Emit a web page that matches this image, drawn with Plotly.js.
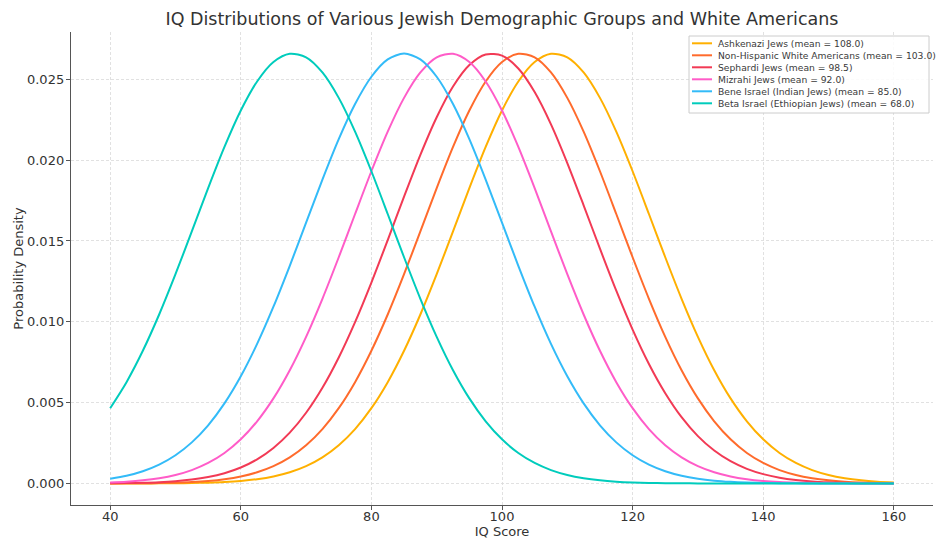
<!DOCTYPE html>
<html>
<head>
<meta charset="utf-8">
<script src="https://cdn.plot.ly/plotly-3.0.1.min.js"></script>
<style>html,body{margin:0;padding:0;background:#fff;}#chart{width:945px;height:551px;}</style>
</head>
<body>
<div id="chart"></div>
<script>
const iqScores = [40,42.5,45,47.5,50,52.5,55,57.5,60,62.5,65,67.5,70,72.5,75,77.5,80,82.5,85,87.5,90,92.5,95,97.5,100,102.5,105,107.5,110,112.5,115,117.5,120,122.5,125,127.5,130,132.5,135,137.5,140,142.5,145,147.5,150,152.5,155,157.5,160];

const ashkenazi = [0.0000009,0.0000019,0.0000039,0.0000078,0.0000151,0.0000283,0.0000519,0.0000920,0.000159,0.000267,0.000437,0.000695,0.001074,0.001616,0.002365,0.003365,0.004658,0.006270,0.008209,0.010453,0.012946,0.015594,0.018269,0.020817,0.023070,0.024867,0.026069,0.026581,0.026361,0.025426,0.023852,0.021763,0.019313,0.016669,0.013993,0.011425,0.009072,0.007007,0.005263,0.003845,0.002732,0.001888,0.001270,0.000830,0.000528,0.000326,0.000196,0.000115,0.0000654];
const whiteAmericans = [0.0000039,0.0000078,0.0000151,0.0000283,0.0000519,0.0000920,0.000159,0.000267,0.000437,0.000695,0.001074,0.001616,0.002365,0.003365,0.004658,0.006270,0.008209,0.010453,0.012946,0.015594,0.018269,0.020817,0.023070,0.024867,0.026069,0.026581,0.026361,0.025426,0.023852,0.021763,0.019313,0.016669,0.013993,0.011425,0.009072,0.007007,0.005263,0.003845,0.002732,0.001888,0.001270,0.000830,0.000528,0.000326,0.000196,0.000115,0.0000654,0.0000362,0.0000195];
const sephardi = [0.0000132,0.0000250,0.0000460,0.0000821,0.000143,0.000241,0.000397,0.000635,0.000987,0.001493,0.002197,0.003143,0.004374,0.005921,0.007795,0.009982,0.012431,0.015057,0.017739,0.020325,0.022651,0.024551,0.025882,0.026537,0.026463,0.025667,0.024212,0.022215,0.019823,0.017205,0.014523,0.011924,0.009521,0.007395,0.005586,0.004104,0.002932,0.002038,0.001378,0.000906,0.000579,0.000360,0.000218,0.000128,0.0000734,0.0000408,0.0000221,0.0000116,0.0000060];
const mizrahi = [0.0000654,0.000115,0.000196,0.000326,0.000528,0.000830,0.001270,0.001888,0.002732,0.003845,0.005263,0.007007,0.009072,0.011425,0.013993,0.016669,0.019313,0.021763,0.023852,0.025426,0.026361,0.026581,0.026069,0.024867,0.023070,0.020817,0.018269,0.015594,0.012946,0.010453,0.008209,0.006270,0.004658,0.003365,0.002365,0.001616,0.001074,0.000695,0.000437,0.000267,0.000159,0.0000920,0.0000519,0.0000283,0.0000151,0.0000078,0.0000039,0.0000019,0.0000009];
const beneIsrael = [0.000295,0.000480,0.000760,0.001169,0.001748,0.002543,0.003599,0.004954,0.006632,0.008634,0.010934,0.013466,0.016131,0.018794,0.021297,0.023471,0.025159,0.026229,0.026596,0.026229,0.025159,0.023471,0.021297,0.018794,0.016131,0.013466,0.010934,0.008634,0.006632,0.004954,0.003599,0.002543,0.001748,0.001169,0.000760,0.000480,0.000295,0.000177,0.000103,0.0000582,0.0000320,0.0000171,0.0000089,0.0000045,0.0000022,0.0000011,0.0000005,0.0000002,0.0000001];
const betaIsrael = [0.004658,0.006270,0.008209,0.010453,0.012946,0.015594,0.018269,0.020817,0.023070,0.024867,0.026069,0.026581,0.026361,0.025426,0.023852,0.021763,0.019313,0.016669,0.013993,0.011425,0.009072,0.007007,0.005263,0.003845,0.002732,0.001888,0.001270,0.000830,0.000528,0.000326,0.000196,0.000115,0.0000654,0.0000362,0.0000195,0.0000101,0.0000052,0.0000026,0.0000012,0.0000006,0.0000003,0.0000001,0,0,0,0,0,0,0];

const seriesNames = [
  "Ashkenazi Jews (mean = 108.0)",
  "Non-Hispanic White Americans (mean = 103.0)",
  "Sephardi Jews (mean = 98.5)",
  "Mizrahi Jews (mean = 92.0)",
  "Bene Israel (Indian Jews) (mean = 85.0)",
  "Beta Israel (Ethiopian Jews) (mean = 68.0)"
];
const seriesValues = [ashkenazi, whiteAmericans, sephardi, mizrahi, beneIsrael, betaIsrael];
const seriesColors = ["#FFB000", "#FF6B2C", "#F23A55", "#FF5CC8", "#33BBF8", "#00CCBC"];

const xTicks = [40,60,80,100,120,140,160];
const yTicks = [0,0.005,0.010,0.015,0.020,0.025];

const traces = seriesNames.map((name, i) => ({
  x: iqScores,
  y: seriesValues[i],
  name: name,
  type: "scatter",
  mode: "lines",
  line: {color: seriesColors[i], width: 2, shape: "spline", smoothing: 0.8}
}));

// legend drawn as a box in paper coordinates
const font = "DejaVu Sans, sans-serif";
const plotL = 71, plotR = 933, plotT = 32, plotB = 505;
const px = v => (v - plotL) / (plotR - plotL);
const py = v => (plotB - v) / (plotB - plotT);
const shapes = [{
  type: "rect", xref: "paper", yref: "paper",
  x0: px(689), x1: px(929), y0: py(113), y1: py(36),
  line: {color: "#cccccc", width: 1}, fillcolor: "rgba(255,255,255,0.85)", layer: "above"
}];
const annotations = [];
seriesNames.forEach((name, i) => {
  const yy = 43.3 + i * 12;
  shapes.push({type: "line", xref: "paper", yref: "paper",
    x0: px(692), x1: px(712), y0: py(yy), y1: py(yy),
    line: {color: seriesColors[i], width: 2}, layer: "above"});
  annotations.push({xref: "paper", yref: "paper", x: px(716), y: py(yy),
    xanchor: "left", yanchor: "middle", showarrow: false, text: name,
    font: {family: font, size: 9.2, color: "#3a3a3a"}});
});

const layout = {
  width: 945, height: 551,
  margin: {l: plotL, r: 945 - plotR, t: plotT, b: 551 - plotB},
  paper_bgcolor: "#ffffff",
  plot_bgcolor: "#ffffff",
  font: {family: font, color: "#333333"},
  title: {text: "IQ Distributions of Various Jewish Demographic Groups and White Americans",
          font: {family: font, size: 17.5, color: "#333333"},
          xref: "paper", x: 0.5, xanchor: "center", yref: "container", y: 1 - 19/551, yanchor: "middle"},
  xaxis: {
    range: [34, 166], tickvals: xTicks, ticktext: xTicks.map(String),
    showgrid: true, gridcolor: "#d9d9d9", griddash: "3px,2px", gridwidth: 0.8,
    zeroline: false, showline: true, linecolor: "#555555", linewidth: 1.2,
    ticks: "outside", ticklen: 4, tickcolor: "#555555", ticklabelstandoff: -5,
    tickfont: {family: font, size: 13, color: "#333333"},
    title: {text: "IQ Score", font: {family: font, size: 13, color: "#333333"}, standoff: 0}
  },
  yaxis: {
    range: [-0.00133, 0.027926], tickvals: yTicks, ticktext: yTicks.map(v => v.toFixed(3)),
    showgrid: true, gridcolor: "#d9d9d9", griddash: "3px,2px", gridwidth: 0.8,
    zeroline: false, showline: true, linecolor: "#555555", linewidth: 1.2,
    ticks: "outside", ticklen: 4, tickcolor: "#555555", ticklabelstandoff: -1,
    tickfont: {family: font, size: 13, color: "#333333"},
    title: {text: "Probability Density", font: {family: font, size: 13, color: "#333333"}, standoff: 0}
  },
  showlegend: false,
  shapes: shapes,
  annotations: annotations
};

Plotly.newPlot("chart", traces, layout, {displayModeBar: false, staticPlot: true});
</script>
</body>
</html>
